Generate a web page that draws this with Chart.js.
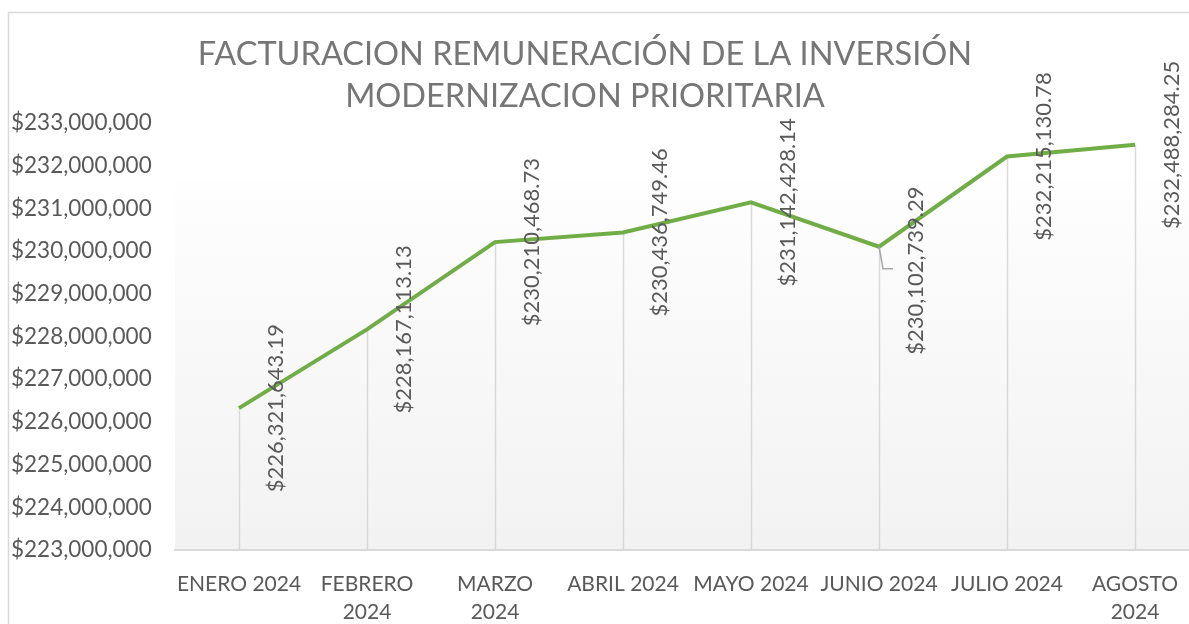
<!DOCTYPE html>
<html>
<head>
<meta charset="utf-8">
<script src="https://cdn.jsdelivr.net/npm/chart.js@4.4.1/dist/chart.umd.min.js"></script>
<style>
  html, body { margin: 0; padding: 0; background: #ffffff; overflow: hidden; }
  #wrap { position: relative; width: 1189px; height: 624px; }
  canvas { display: block; }
</style>
</head>
<body>
<div id="wrap"><canvas id="c" width="1189" height="624"></canvas></div>
<script>
// ---- data ----
const categories = ['ENERO 2024', 'FEBRERO 2024', 'MARZO 2024', 'ABRIL 2024', 'MAYO 2024', 'JUNIO 2024', 'JULIO 2024', 'AGOSTO 2024'];
const tickLabels = [['ENERO 2024'], ['FEBRERO', '2024'], ['MARZO', '2024'], ['ABRIL 2024'], ['MAYO 2024'], ['JUNIO 2024'], ['JULIO 2024'], ['AGOSTO', '2024']];
const values = [226321643.19, 228167113.13, 230210468.73, 230436749.46, 231142428.14, 230102739.29, 232215130.78, 232488284.25];
const titleLines = ['FACTURACION REMUNERACIÓN DE LA INVERSIÓN', 'MODERNIZACION PRIORITARIA'];
const yMin = 223000000;
const yMax = 233000000;
const yStep = 1000000;

const FONT = 'Lato, Carlito, Calibri, sans-serif';
const TEXT = '#595959';

function money(v, decimals) {
  const neg = v < 0;
  let s = Math.abs(v).toFixed(decimals);
  let [i, d] = s.split('.');
  i = i.replace(/\B(?=(\d{3})+(?!\d))/g, ',');
  return (neg ? '-' : '') + '$' + i + (d ? '.' + d : '');
}

const decorPlugin = {
  id: 'decor',
  beforeDraw(chart) {
    const { ctx, chartArea: a } = chart;
    ctx.save();
    // outer chart border
    ctx.strokeStyle = '#d9d9d9';
    ctx.lineWidth = 1.5;
    ctx.strokeRect(8.5, 12.5, chart.width + 50, chart.height + 50);
    // plot area gradient
    const top = a.top + 57;
    const g = ctx.createLinearGradient(0, top, 0, a.bottom);
    g.addColorStop(0, '#fefefe');
    g.addColorStop(1, '#f2f2f2');
    ctx.fillStyle = g;
    ctx.fillRect(a.left, top, a.right - a.left, a.bottom - top);
    // title
    ctx.fillStyle = '#767676';
    ctx.font = '32.5px ' + FONT;
    ctx.textAlign = 'center';
    ctx.textBaseline = 'middle';
    ctx.fillText(titleLines[0], 585, 55);
    ctx.fillText(titleLines[1], 585, 97);
    ctx.restore();
  },
  beforeDatasetsDraw(chart) {
    const { ctx } = chart;
    const meta = chart.getDatasetMeta(0);
    const yb = chart.scales.y.getPixelForValue(yMin);
    ctx.save();
    ctx.strokeStyle = '#d9d9d9';
    ctx.lineWidth = 1.5;
    meta.data.forEach(p => {
      ctx.beginPath();
      ctx.moveTo(Math.round(p.x) + 0.5, p.y);
      ctx.lineTo(Math.round(p.x) + 0.5, yb);
      ctx.stroke();
    });
    ctx.restore();
  },
  afterDatasetsDraw(chart) {
    const { ctx } = chart;
    const meta = chart.getDatasetMeta(0);
    ctx.save();
    ctx.font = '22px ' + FONT;
    ctx.fillStyle = TEXT;
    ctx.textAlign = 'center';
    ctx.textBaseline = 'middle';
    meta.data.forEach((p, i) => {
      let dy = 0;
      if (i === 5) {
        dy = 24;
        ctx.save();
        ctx.strokeStyle = '#a6a6a6';
        ctx.lineWidth = 1.5;
        ctx.beginPath();
        ctx.moveTo(p.x, p.y);
        ctx.lineTo(p.x + 4, p.y + 22);
        ctx.lineTo(p.x + 14, p.y + 22);
        ctx.stroke();
        ctx.restore();
      }
      ctx.save();
      ctx.translate(p.x + 37, p.y + dy);
      ctx.rotate(-Math.PI / 2);
      ctx.fillText(money(values[i], 2), 0, 0);
      ctx.restore();
    });
    ctx.restore();
  }
};

new Chart(document.getElementById('c'), {
  type: 'line',
  data: {
    datasets: [{
      label: 'Facturación',
      data: values.map((v, i) => ({ x: i, y: v })),
      borderColor: '#70ad47',
      borderWidth: 4,
      pointRadius: 0,
      tension: 0,
      fill: false
    }]
  },
  options: {
    responsive: false,
    animation: false,
    devicePixelRatio: 1,
    layout: { padding: { left: 11, top: 123, right: 0, bottom: 0 } },
    plugins: { legend: { display: false }, title: { display: false }, tooltip: { enabled: false } },
    scales: {
      x: {
        type: 'linear',
        min: -0.5,
        max: 7.5 - 10 / 128,
        grid: { display: false },
        border: { display: true, color: '#d9d9d9', width: 2 },
        afterBuildTicks: s => { s.ticks = categories.map((_, i) => ({ value: i })); },
        afterFit: s => { s.height = 74; s.paddingLeft = 0; s.paddingRight = 0; },
        ticks: {
          autoSkip: false,
          maxRotation: 0,
          padding: 12,
          color: TEXT,
          font: { family: FONT, size: 21, lineHeight: 1.35 },
          callback: v => tickLabels[v]
        }
      },
      y: {
        min: yMin,
        max: yMax,
        grid: { display: false },
        border: { display: false },
        afterFit: s => { s.width = 164; },
        ticks: {
          stepSize: yStep,
          crossAlign: 'far',
          color: TEXT,
          font: { family: FONT, size: 22.5 },
          callback: v => money(v, 0)
        }
      }
    }
  },
  plugins: [decorPlugin]
});
</script>
</body>
</html>
